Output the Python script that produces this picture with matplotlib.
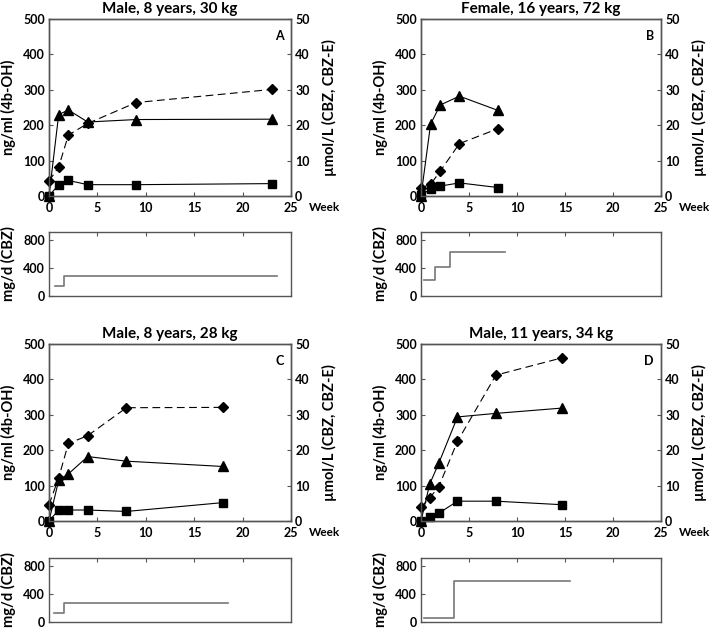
import numpy as np
import matplotlib
matplotlib.use("Agg")
import matplotlib.pyplot as plt

plt.rcParams['font.family'] = ['Lato', 'DejaVu Sans']
plt.rcParams['font.weight'] = 'bold'
plt.rcParams['axes.labelweight'] = 'bold'
plt.rcParams['axes.titleweight'] = 'bold'

# ---- data ----
titles = ["Male, 8 years, 30 kg", "Female, 16 years, 72 kg",
          "Male, 8 years, 28 kg", "Male, 11 years, 34 kg"]
letters = ["A", "B", "C", "D"]

# weeks of sampling
weeks_a = [0, 1, 2, 4, 9, 23]
weeks_b = [0, 1, 2, 4, 8]
weeks_c = [0, 1, 2, 4, 8, 18]
weeks_d = [0, 0.9, 1.85, 3.8, 7.8, 14.7]

# triangles, ng/ml (4b-OH), left axis
tri_a = [0, 230, 243, 209, 216, 217]
tri_b = [0, 203, 257, 282, 242]
tri_c = [0, 115, 133, 182, 169, 154]
tri_d = [0, 104, 163, 294, 304, 319]

# diamonds, umol/L, right axis (dashed)
dia_a = [4.2, 8.2, 17.2, 20.5, 26.4, 30.1]
dia_b = [2.3, 3.3, 7.0, 14.8, 19.0]
dia_c = [4.6, 12.2, 21.9, 24.1, 32.0, 32.1]
dia_d = [3.9, 6.5, 9.7, 22.5, 41.2, 46.1]

# squares, umol/L, right axis
sq_a = [0, 3.2, 4.4, 3.2, 3.2, 3.5]
sq_b = [0.3, 1.9, 2.8, 3.7, 2.4]
sq_c = [0, 3.1, 3.1, 3.1, 2.7, 5.2]
sq_d = [0, 1.0, 2.2, 5.6, 5.6, 4.6]

# carbamazepine dose steps, mg/d
dose_wk_a = [0.6, 1.6, 1.6, 23.6]
dose_mg_a = [138, 138, 290, 290]
dose_wk_b = [0.35, 1.5, 1.5, 3.05, 3.05, 8.7]
dose_mg_b = [229, 229, 419, 419, 624, 624]
dose_wk_c = [0.5, 1.5, 1.5, 18.5]
dose_mg_c = [127, 127, 268, 268]
dose_wk_d = [0.35, 3.47, 3.47, 15.5]
dose_mg_d = [56, 56, 580, 580]

W, H = 710, 629
fig = plt.figure(figsize=(W / 100, H / 100), dpi=100)
spine_col = "#555555"


def rect(x0, y0, x1, y1):
    return [x0 / W, 1 - y1 / H, (x1 - x0) / W, (y1 - y0) / H]


def style(ax):
    for s in ax.spines.values():
        s.set_color(spine_col)
        s.set_linewidth(1.0)
    ax.tick_params(direction="in", length=3, width=0.8, color=spine_col,
                   labelsize=9, pad=3)
    for lab in ax.get_xticklabels() + ax.get_yticklabels():
        lab.set_fontweight("bold")


def panel(x0, y0, x1, y1, dy0, dy1, title, letter, wk, tri, dia, sq, dwk, dmg):
    ax = fig.add_axes(rect(x0, y0, x1, y1))
    ax.set_xlim(0, 25)
    ax.set_ylim(0, 500)
    ax.set_xticks([0, 5, 10, 15, 20, 25])
    ax.set_yticks([0, 100, 200, 300, 400, 500])
    style(ax)
    ax.tick_params(axis="x", pad=4.5)
    ax.set_ylabel("ng/ml (4b-OH)", fontsize=10.5, labelpad=5)
    ax.set_title(title, fontsize=11, pad=4)
    ax.text(0.97, 0.94, letter, transform=ax.transAxes, ha="right", va="top",
            fontsize=9)
    ax.text(1.075, -0.036, "Week", transform=ax.transAxes, ha="left", va="top",
            fontsize=8.5)
    ax.plot(wk, tri, color="black", lw=0.8, marker="^", ms=7, clip_on=False,
            zorder=3)

    ax2 = ax.twinx()
    ax2.set_ylim(0, 50)
    ax2.set_yticks([0, 10, 20, 30, 40, 50])
    style(ax2)
    ax2.set_ylabel("\u00b5mol/L (CBZ, CBZ-E)", fontsize=10.5, labelpad=9)
    ax2.plot(wk, dia, color="black", lw=0.8, ls=(0, (7, 4)), marker="D", ms=5,
             clip_on=False)
    ax2.plot(wk, sq, color="black", lw=0.8, marker="s", ms=6, clip_on=False)

    axd = fig.add_axes(rect(x0, dy0, x1, dy1))
    axd.set_xlim(0, 25)
    axd.set_ylim(0, 910)
    axd.set_xticks([0, 5, 10, 15, 20, 25])
    axd.set_yticks([0, 400, 800])
    style(axd)
    axd.tick_params(axis="x", top=True, bottom=False, labelbottom=False)
    axd.set_ylabel("mg/d (CBZ)", fontsize=10.5, labelpad=5)
    axd.plot(dwk, dmg, color="#777777", lw=1.2)


panel(49, 19, 291, 196, 232, 296, titles[0], letters[0],
      weeks_a, tri_a, dia_a, sq_a, dose_wk_a, dose_mg_a)
panel(421, 19, 661, 196, 232, 296, titles[1], letters[1],
      weeks_b, tri_b, dia_b, sq_b, dose_wk_b, dose_mg_b)
panel(49, 344, 291, 521, 558, 622, titles[2], letters[2],
      weeks_c, tri_c, dia_c, sq_c, dose_wk_c, dose_mg_c)
panel(421, 344, 661, 521, 558, 622, titles[3], letters[3],
      weeks_d, tri_d, dia_d, sq_d, dose_wk_d, dose_mg_d)

fig.savefig("out.png", dpi=100)
